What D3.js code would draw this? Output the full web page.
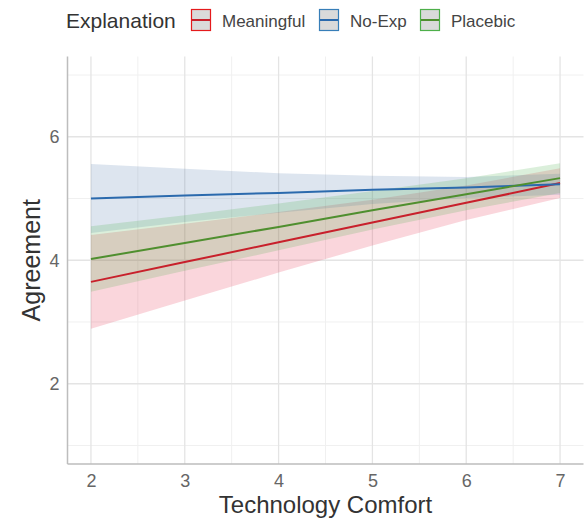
<!DOCTYPE html>
<html>
<head>
<meta charset="utf-8">
<script src="https://cdn.jsdelivr.net/npm/d3@7"></script>
<style>
  body { margin: 0; background: #fff; }
  text { font-family: "Liberation Sans", Arial, sans-serif; }
</style>
</head>
<body>
<script>
const w = 588;
const h = 521;

// values
const comfort = [2, 3, 4, 5, 6, 7];
const groups = ["Meaningful", "No-Exp", "Placebic"];
const meaningfulFit = [3.65, 3.97, 4.29, 4.61, 4.93, 5.25];
const meaningfulLow = [2.89, 3.35, 3.8, 4.24, 4.65, 5.01];
const meaningfulHigh = [4.41, 4.59, 4.78, 4.98, 5.21, 5.49];
const noExpFit = [5.0, 5.05, 5.09, 5.14, 5.18, 5.23];
const noExpLow = [4.44, 4.62, 4.77, 4.91, 5.01, 5.06];
const noExpHigh = [5.56, 5.48, 5.41, 5.37, 5.35, 5.4];
const placebicFit = [4.02, 4.28, 4.54, 4.81, 5.07, 5.33];
const placebicLow = [3.49, 3.83, 4.16, 4.5, 4.81, 5.09];
const placebicHigh = [4.55, 4.73, 4.92, 5.12, 5.33, 5.57];
const xTicks = [2, 3, 4, 5, 6, 7];
const yTicks = [2, 4, 6];

const lineColors = ["#c8202b", "#2b6aad", "#4f8f2f"];
const fillColors = ["#e8334f", "#557daf", "#4daf4a"];
const keyColors = ["#e41a1c", "#377eb8", "#4daf4a"];

const series = [
  { fit: meaningfulFit, low: meaningfulLow, high: meaningfulHigh },
  { fit: noExpFit, low: noExpLow, high: noExpHigh },
  { fit: placebicFit, low: placebicLow, high: placebicHigh },
];

const svg = d3.select("body").append("svg").attr("width", w).attr("height", h);

const pLeft = 67.5, pRight = 583.5, pTop = 56.5, pBottom = 464;

const xScale = d3.scaleLinear().domain([1.75, 7.25]).range([pLeft, pRight]);
const yScale = d3.scaleLinear().domain([0.7, 7.3]).range([pBottom, pTop]);

// grid
const grid = svg.append("g");
const xMinor = d3.range(2.5, 7.25, 1);
const yMinor = [1, 3, 5, 7];
grid.selectAll(".xmin").data(xMinor).enter().append("line")
  .attr("x1", (d) => xScale(d)).attr("x2", (d) => xScale(d))
  .attr("y1", pTop).attr("y2", pBottom)
  .attr("stroke", "#f0f0f0").attr("stroke-width", 1);
grid.selectAll(".ymin").data(yMinor).enter().append("line")
  .attr("x1", pLeft).attr("x2", pRight)
  .attr("y1", (d) => yScale(d)).attr("y2", (d) => yScale(d))
  .attr("stroke", "#f0f0f0").attr("stroke-width", 1);
grid.selectAll(".xmaj").data(xTicks).enter().append("line")
  .attr("x1", (d) => xScale(d)).attr("x2", (d) => xScale(d))
  .attr("y1", pTop).attr("y2", pBottom)
  .attr("stroke", "#e4e4e4").attr("stroke-width", 1.3);
grid.selectAll(".ymaj").data(yTicks).enter().append("line")
  .attr("x1", pLeft).attr("x2", pRight)
  .attr("y1", (d) => yScale(d)).attr("y2", (d) => yScale(d))
  .attr("stroke", "#e4e4e4").attr("stroke-width", 1.3);

// ribbons first, then the fitted lines
const area = d3.area()
  .x((d) => xScale(d.x))
  .y0((d) => yScale(d.low))
  .y1((d) => yScale(d.high));
const line = d3.line()
  .x((d) => xScale(d.x))
  .y((d) => yScale(d.fit));

const pointsOf = (s) =>
  comfort.map((x, j) => ({ x: x, fit: s.fit[j], low: s.low[j], high: s.high[j] }));

series.forEach((s, i) => {
  svg.append("path").attr("d", area(pointsOf(s)))
    .attr("fill", fillColors[i]).attr("fill-opacity", 0.2);
});
series.forEach((s, i) => {
  svg.append("path").attr("d", line(pointsOf(s)))
    .attr("fill", "none").attr("stroke", lineColors[i]).attr("stroke-width", 2);
});

// axes
const xAxis = d3.axisBottom(xScale).tickValues(xTicks).tickFormat(d3.format("d"))
  .tickSize(0).tickPadding(10);
const yAxis = d3.axisLeft(yScale).tickValues(yTicks).tickFormat(d3.format("d"))
  .tickSize(0).tickPadding(8);

const gx = svg.append("g").attr("transform", "translate(0," + pBottom + ")").call(xAxis);
const gy = svg.append("g").attr("transform", "translate(" + pLeft + ",0)").call(yAxis);
[gx, gy].forEach((g) => {
  g.select(".domain").attr("stroke", "#bdbdbd").attr("stroke-width", 1.5);
  g.selectAll("text").attr("fill", "#666").style("font-size", "18px")
    .style("font-family", '"Liberation Sans", Arial, sans-serif');
});
gy.select(".domain").attr("d", "M0," + pTop + "V" + pBottom);
gx.select(".domain").attr("d", "M" + pLeft + ",0H" + pRight);

svg.append("text").attr("x", xScale(4.5)).attr("y", 513)
  .attr("text-anchor", "middle").attr("fill", "#333").style("font-size", "24px")
  .text("Technology Comfort");
svg.append("text")
  .attr("transform", "translate(40," + yScale(4) + ") rotate(-90)")
  .attr("text-anchor", "middle").attr("fill", "#333").style("font-size", "25px")
  .text("Agreement");

// legend
const legend = svg.append("g");
legend.append("text").attr("x", 66).attr("y", 28).attr("fill", "#333")
  .style("font-size", "21px").text("Explanation");
const keyX = [191, 319, 420];
groups.forEach((g, i) => {
  const k = legend.append("g").attr("transform", "translate(" + keyX[i] + ",9)");
  k.append("rect").attr("x", 0.5).attr("y", 0.5).attr("width", 19).attr("height", 21)
    .attr("fill", "#dadada").attr("stroke", keyColors[i]).attr("stroke-width", 1.2);
  k.append("line").attr("x1", 1).attr("x2", 19).attr("y1", 11).attr("y2", 11)
    .attr("stroke", lineColors[i]).attr("stroke-width", 2);
  legend.append("text").attr("x", keyX[i] + 31).attr("y", 27).attr("fill", "#444")
    .style("font-size", "17px").text(g);
});
</script>
</body>
</html>
